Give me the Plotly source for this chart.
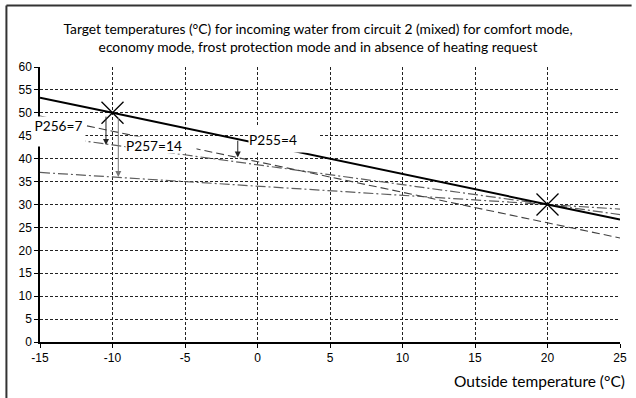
import plotly.graph_objects as go

# ---- data ----
outside_temp = [-15, -10, 20, 25]
comfort = [53.3, 50.0, 30.0, 26.7]          # solid curve (comfort mode)
reduced_p255 = [49.3, 46.0, 26.0, 22.7]     # comfort minus P255 (dashed)
economy = [45.2, 43.0, 30.0, 27.8]          # economy mode (dash-dot)
frost = [37.0, 36.0, 30.0, 29.0]            # frost protection (dash-dot)
curve_pts_x = [-10, 20]
curve_pts_y = [50.0, 30.0]

x_ticks = [-15, -10, -5, 0, 5, 10, 15, 20, 25]
y_ticks = [0, 5, 10, 15, 20, 25, 30, 35, 40, 45, 50, 55, 60]

param_labels = ["P256=7", "P257=14", "P255=4"]
param_values = [7, 14, 4]
arrow_x = [-10.45, -9.6, -1.36]

title_text = ("Target temperatures (°C) for incoming water from circuit 2 (mixed) for comfort mode,"
              "<br>economy mode, frost protection mode and in absence of heating request")
x_title = "Outside temperature (°C)"


def comfort_at(x):
    # linear interpolation on the comfort curve
    for i in range(len(outside_temp) - 1):
        x0, x1 = outside_temp[i], outside_temp[i + 1]
        if x0 <= x <= x1:
            return comfort[i] + (comfort[i + 1] - comfort[i]) * (x - x0) / (x1 - x0)
    return comfort[-1]


LABEL_FONT = "Lato, 'Open Sans', sans-serif"
TICK_FONT = "'Liberation Sans', Arial, sans-serif"

fig = go.Figure()

fig.add_trace(go.Scatter(x=outside_temp, y=frost, mode="lines",
                         line=dict(color="#5e5e5e", width=1.2, dash="10px,3px,2px,3px"),
                         showlegend=False, hoverinfo="skip"))
fig.add_trace(go.Scatter(x=outside_temp, y=economy, mode="lines",
                         line=dict(color="#5e5e5e", width=1.2, dash="10px,3px,2px,3px"),
                         showlegend=False, hoverinfo="skip"))
fig.add_trace(go.Scatter(x=outside_temp, y=reduced_p255, mode="lines",
                         line=dict(color="#404040", width=1.1, dash="8px,4px"),
                         showlegend=False, hoverinfo="skip"))
fig.add_trace(go.Scatter(x=outside_temp, y=comfort, mode="lines",
                         line=dict(color="black", width=2),
                         showlegend=False, hoverinfo="skip"))
fig.add_trace(go.Scatter(x=curve_pts_x, y=curve_pts_y, mode="markers",
                         marker=dict(symbol="x-thin", size=22, line=dict(color="black", width=1.3)),
                         showlegend=False, hoverinfo="skip"))

annotations = []
# arrows
arrow_colors = ["#222222", "#777777", "#222222"]
for i, (lab, val, ax_) in enumerate(zip(param_labels, param_values, arrow_x)):
    top = comfort_at(ax_)
    if i < 2:
        top = min(top, curve_pts_y[0]) - 0.5
        tip = curve_pts_y[0] - val
    else:
        tip = top - val
    annotations.append(dict(x=ax_, y=tip, ax=ax_, ay=top, xref="x", yref="y",
                            axref="x", ayref="y", text="", showarrow=True,
                            arrowhead=2, arrowsize=1.2, arrowwidth=1,
                            arrowcolor=arrow_colors[i], standoff=0))

# parameter labels with white boxes
label_boxes = [
    dict(x=-13.74, y=45.84, w=53, h=29, align="center", valign="top"),
    dict(x=-6.68, y=42.9, w=70, h=16, align="left", valign="middle"),
    dict(x=1.85, y=44.1, w=70, h=25, align="left", valign="middle"),
]
for lab, b in zip(param_labels, label_boxes):
    annotations.append(dict(x=b["x"], y=b["y"], xref="x", yref="y", text=lab,
                            showarrow=False, bgcolor="white", width=b["w"], height=b["h"],
                            align=b["align"], valign=b["valign"], borderpad=0,
                            font=dict(family=LABEL_FONT, size=13.7, color="black")))

# x-axis title at lower right
annotations.append(dict(x=1.012, y=-0.1416, xref="paper", yref="paper", text=x_title,
                        showarrow=False, xanchor="right", yanchor="middle",
                        font=dict(family=LABEL_FONT, size=15.5, color="black")))

fig.update_layout(
    width=636, height=398,
    margin=dict(l=40, r=9, t=66.5, b=56),
    paper_bgcolor="white", plot_bgcolor="white",
    title=dict(text=title_text, x=0.5, xref="container", xanchor="center",
               y=1 - 34 / 398, yref="container", yanchor="middle",
               font=dict(family=LABEL_FONT, size=13.8, color="black")),
    annotations=annotations,
    shapes=[
        dict(type="line", xref="paper", yref="paper", x0=-0.0579, x1=1.02, y0=1.2232, y1=1.2232,
             line=dict(color="#333333", width=2)),
        dict(type="line", xref="paper", yref="paper", x0=-0.0579, x1=-0.0579, y0=1.2232, y1=-0.21,
             line=dict(color="#333333", width=2)),
    ],
)

fig.update_xaxes(range=[-15, 25], tickvals=x_ticks, ticktext=[str(v) for v in x_ticks],
                 showgrid=True, gridcolor="#222222", gridwidth=1, griddash="3px,2px",
                 zeroline=False, showline=True, linecolor="black", linewidth=1.5,
                 ticks="outside", ticklen=4, tickcolor="black",
                 tickfont=dict(family=TICK_FONT, size=12, color="black"))
fig.update_yaxes(range=[0, 60], tickvals=y_ticks, ticktext=[str(v) for v in y_ticks],
                 showgrid=True, gridcolor="#222222", gridwidth=1, griddash="3px,2px",
                 zeroline=False, showline=True, linecolor="black", linewidth=1.5,
                 ticks="outside", ticklen=4, tickcolor="black",
                 tickfont=dict(family=TICK_FONT, size=12, color="black"))

fig.write_html("out.html", config={"displayModeBar": False},
               post_script="document.body.style.margin='0';")
